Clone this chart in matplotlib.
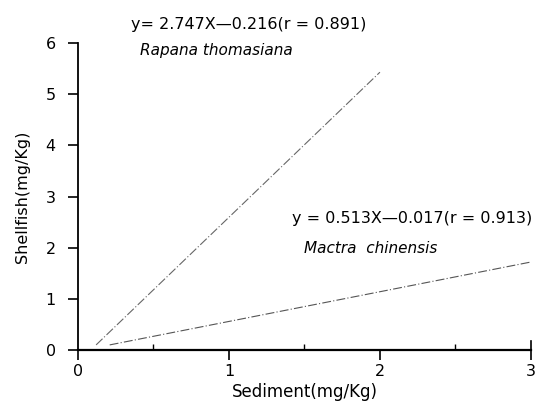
import numpy as np
import matplotlib.pyplot as plt

plt.rcParams['font.family'] = ['DejaVu Sans']

# values
rapana_x = [0.12, 2.00]
rapana_y = [0.10, 5.43]
mactra_x = [0.21, 3.00]
mactra_y = [0.10, 1.72]

x_ticks = [0, 1, 2, 3]
y_ticks = [0, 1, 2, 3, 4, 5, 6]

fig = plt.figure(figsize=(5.39, 4.07), dpi=100)
ax = fig.add_axes([0.1447, 0.14, 0.8403, 0.7543])

ax.plot(rapana_x, rapana_y, color='#666666', lw=0.8, ls=(0, (8, 2, 1, 2)))
ax.plot(mactra_x, mactra_y, color='#555555', lw=0.8, ls=(0, (8, 2, 1, 2)))

ax.set_xlim(0, 3)
ax.set_ylim(0, 6)
ax.set_xticks(x_ticks)
ax.set_yticks(y_ticks)
ax.set_xticks([0.5, 1.5, 2.5], minor=True)
ax.tick_params(axis='x', direction='out', length=7, width=1.2, labelsize=11.5, pad=3)
ax.tick_params(axis='x', which='minor', direction='in', length=4, width=1)
ax.tick_params(axis='y', direction='out', length=7, width=1.2, labelsize=11.5, pad=9)

ax.spines['top'].set_visible(False)
ax.spines['right'].set_visible(False)
ax.spines['left'].set_linewidth(1.3)
ax.spines['bottom'].set_linewidth(1.6)
ax.axvline(3, ymin=0, ymax=0.03, color='black', lw=1.2, clip_on=False)

ax.set_xlabel('Sediment(mg/Kg)', fontsize=12, labelpad=3)
ax.set_ylabel('Shellfish(mg/Kg)', fontsize=11.5, labelpad=11)

ax.text(0.35, 6.37, 'y= 2.747X\u20140.216(r = 0.891)', fontsize=11.5, ha='left', va='center')
ax.text(0.41, 5.86, 'Rapana thomasiana', fontsize=11, style='italic', ha='left', va='center')
ax.text(1.42, 2.58, 'y = 0.513X\u20140.017(r = 0.913)', fontsize=11.5, ha='left', va='center')
ax.text(1.50, 1.99, 'Mactra  chinensis', fontsize=11, style='italic', ha='left', va='center')

fig.savefig('out.png', dpi=100)
